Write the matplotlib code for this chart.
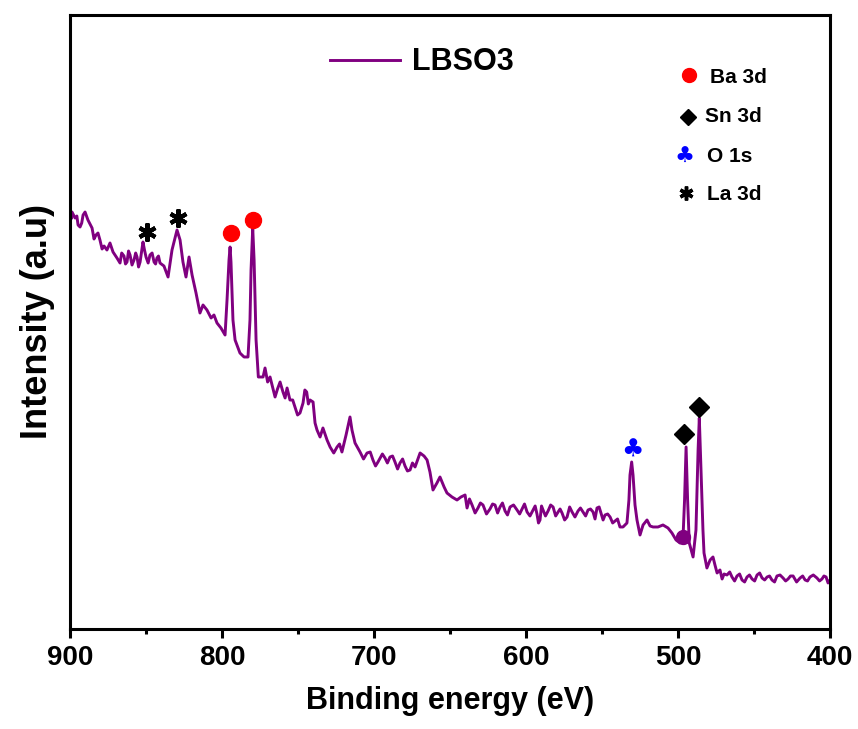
import matplotlib
matplotlib.use('Agg')
import matplotlib.pyplot as plt
import numpy as np
from matplotlib.ticker import MultipleLocator

plt.rcParams['font.family'] = ['Liberation Sans', 'DejaVu Sans']
plt.rcParams['font.weight'] = 'bold'

# XPS survey spectrum of LBSO3 (intensity in a.u.)
energy = [900.0, 898.7, 896.7, 894.7, 893.4, 891.4, 890.1, 888.2, 885.5, 882.9,
          880.3, 877.6, 875.7, 873.7, 871.7, 869.1, 867.1, 864.5, 862.5, 860.5,
          857.9, 855.9, 853.9, 852.0, 850.0, 847.4, 844.7, 842.8, 840.8, 838.2,
          835.5, 832.9, 830.9, 829.6, 827.6, 825.7, 823.7, 821.7, 819.7, 817.1,
          814.5, 812.5, 809.9, 807.2, 805.3, 803.3, 800.7, 798.0, 796.7, 795.4,
          794.7, 794.1, 792.8, 791.4, 788.2, 785.5, 782.9, 781.6, 780.9, 779.8,
          778.9, 777.6, 776.1, 773.0, 771.7, 768.4, 765.1, 761.8, 759.9, 757.2,
          755.3, 752.0, 748.7, 746.7, 744.3, 742.1, 740.1, 737.5, 735.5, 733.6,
          730.9, 728.9, 724.3, 721.1, 718.4, 715.8, 714.5, 712.5, 709.2, 704.6,
          700.7, 697.4, 692.8, 689.5, 686.2, 682.9, 679.6, 676.3, 673.0, 669.7,
          667.1, 665.1, 663.2, 661.2, 658.6, 656.6, 653.9, 652.0, 648.7, 645.4,
          642.8, 640.1, 638.8, 635.5, 631.6, 628.3, 623.7, 620.4, 617.1, 613.8,
          610.5, 605.9, 602.6, 599.3, 595.4, 592.8, 590.8, 588.8, 585.5, 582.2,
          578.9, 576.3, 573.0, 569.7, 565.8, 562.5, 559.2, 555.9, 553.3, 550.7,
          548.0, 544.7, 541.4, 538.2, 536.2, 533.6, 532.3, 531.6, 530.5, 529.6,
          528.3, 527.0, 525.0, 523.0, 520.4, 518.4, 516.4, 513.2, 509.9, 506.6,
          504.0, 501.3, 498.7, 496.7, 495.7, 494.7, 493.7, 492.6, 490.1, 488.2,
          486.8, 486.0, 484.9, 483.6, 482.9, 481.0, 478.9, 477.0, 475.7, 474.3,
          472.4, 469.7, 467.8, 464.5, 461.2, 457.9, 454.6, 451.3, 448.0, 444.7,
          441.4, 438.2, 434.9, 430.9, 427.6, 424.3, 419.7, 416.4, 413.2, 408.6,
          405.3, 402.6, 400.0]
intensity = [42.1, 41.7, 41.1, 40.4, 40.2, 41.4, 41.7, 40.9, 40.1, 39.4,
             38.9, 38.3, 37.9, 38.6, 37.7, 37.1, 36.6, 37.3, 36.7, 37.4,
             36.9, 37.2, 36.7, 38.7, 37.2, 37.4, 36.7, 37.1, 36.6, 36.3,
             35.2, 37.9, 39.1, 39.9, 38.9, 36.7, 35.2, 37.2, 35.4, 33.6,
             31.6, 32.4, 31.9, 31.1, 31.4, 30.6, 30.1, 29.4, 32.9, 36.9,
             38.2, 36.7, 30.9, 28.9, 27.6, 27.2, 27.2, 30.9, 35.9, 40.1,
             36.9, 28.9, 25.2, 25.2, 26.1, 25.2, 23.2, 24.7, 23.7, 24.1,
             22.9, 22.2, 21.6, 22.6, 23.7, 22.9, 22.7, 19.9, 19.2, 20.1,
             18.9, 18.2, 18.2, 17.7, 19.4, 21.2, 19.9, 18.6, 17.7, 17.6,
             16.9, 16.7, 17.1, 17.2, 16.7, 16.6, 16.3, 15.9, 16.2, 17.6,
             17.3, 16.9, 15.7, 13.9, 14.6, 15.2, 14.2, 13.6, 13.2, 12.9,
             13.2, 13.4, 12.1, 12.4, 12.1, 12.4, 12.0, 12.4, 12.2, 11.8,
             12.2, 11.9, 12.0, 11.7, 11.9, 11.5, 10.9, 11.9, 11.8, 12.2,
             11.7, 11.6, 11.2, 11.7, 11.8, 11.7, 11.9, 11.7, 12.1, 11.6,
             11.4, 11.2, 10.8, 10.2, 10.2, 10.6, 12.9, 15.4, 16.7, 15.4,
             12.4, 10.9, 9.4, 10.4, 10.9, 10.3, 10.2, 10.2, 10.4, 10.1,
             9.6, 8.9, 8.6, 9.2, 12.9, 18.2, 12.9, 8.6, 7.2, 9.9,
             17.9, 21.1, 15.9, 9.9, 7.6, 6.1, 6.9, 7.2, 6.4, 5.6,
             5.9, 5.5, 5.4, 5.2, 5.3, 4.9, 5.2, 5.0, 5.4, 5.1,
             5.2, 4.9, 5.3, 5.1, 5.0, 5.3, 5.1, 4.9, 5.2, 5.1,
             5.0, 5.2, 4.9]

# extra readings of the small noise wiggles between the points above
noise_energy = [899.3, 895.5, 892.3, 884.2, 881.6, 878.9, 866.0, 863.5, 861.5,
                859.2, 856.8, 854.9, 851.0, 848.6, 846.0, 843.7, 841.8,
                770.0, 763.5, 758.5, 753.5, 750.3, 745.5, 743.2, 738.8, 726.5,
                722.7, 706.9, 702.5, 699.0, 694.5, 691.2, 687.8, 684.5, 681.2,
                678.0, 674.7,
                637.2, 633.5, 630.0, 626.0, 622.0, 618.7, 615.5, 612.2, 608.2,
                604.2, 601.0, 597.4, 594.0, 591.8, 589.8, 587.2, 583.8, 580.5,
                577.6, 574.6, 571.3, 567.8, 564.2, 560.8, 557.6, 554.6, 551.9,
                549.3, 546.3, 543.0, 539.8,
                471.0, 466.0, 462.8, 459.5, 456.2, 453.0, 449.6, 446.3, 443.0,
                439.8, 436.5, 432.9, 429.2, 426.0, 422.0, 418.0, 414.8, 411.0,
                406.9, 404.0, 401.3]
noise_intensity = [41.0, 41.3, 40.6, 39.0, 39.6, 38.0, 37.6, 36.5, 37.8,
                   36.4, 37.6, 36.2, 37.9, 36.6, 37.6, 36.5, 37.3,
                   24.7, 24.0, 23.1, 22.9, 21.4, 23.9, 22.5, 20.6, 17.6,
                   18.5, 17.0, 17.7, 16.3, 17.5, 16.6, 17.3, 16.0, 17.0,
                   15.8, 16.6,
                   13.0, 11.6, 12.6, 11.5, 12.5, 11.6, 12.6, 11.4, 12.4,
                   11.5, 12.5, 11.3, 12.3, 10.6, 12.3, 11.3, 12.4, 11.3,
                   12.0, 10.9, 12.2, 11.2, 12.1, 11.3, 12.0, 11.0, 12.2,
                   10.9, 11.5, 10.6, 11.0,
                   5.0, 5.7, 4.8, 5.5, 4.7, 5.4, 4.8, 5.6, 4.9,
                   5.3, 4.7, 5.4, 4.8, 5.3, 4.7, 5.3, 4.8, 5.4,
                   4.8, 5.3, 4.6]

# peak markers (binding energy, intensity)
la_peaks = ([849.3, 828.9], [39.7, 41.1])
ba_peaks = ([794.1, 779.6], [39.6, 40.9])
sn_peaks = ([496.1, 486.2], [19.5, 22.2])
o_peak = (530.3, 17.9)
stray_dot = (496.7, 9.2)

e_all = np.array(energy + noise_energy)
i_all = np.array(intensity + noise_intensity)
order = np.argsort(-e_all)

fig, ax = plt.subplots(figsize=(8.58, 7.29), dpi=100)
fig.subplots_adjust(left=0.0816, right=0.9674, top=0.9794, bottom=0.1372)

ax.plot(e_all[order], i_all[order], color='#800080', lw=2.1, label='LBSO3')

ax.plot(*la_peaks, ls='none', marker=(6, 2, 0), ms=13, mew=3, color='black')
ax.plot(*ba_peaks, ls='none', marker='o', ms=11.5, color='red')
ax.plot(*sn_peaks, ls='none', marker='D', ms=10, color='black')
ax.plot(*stray_dot, ls='none', marker='o', ms=10, color='#800080')
ax.text(o_peak[0], o_peak[1], '\u2663', color='blue', fontsize=18,
        ha='center', va='center', family='DejaVu Sans')

ax.set_xlim(900, 400)
ax.set_ylim(0, 61.4)
ax.xaxis.set_major_locator(MultipleLocator(100))
ax.xaxis.set_minor_locator(MultipleLocator(50))
ax.tick_params(axis='x', which='major', direction='out', length=6.5, width=2.2,
               labelsize=20, pad=5)
ax.tick_params(axis='x', which='minor', direction='out', length=3.5, width=2.2)
ax.set_yticks([])
for s in ax.spines.values():
    s.set_linewidth(2.2)

ax.set_xlabel('Binding energy (eV)', fontsize=22, fontweight='bold', labelpad=11)
ax.set_ylabel('Intensity (a.u)', fontsize=26, fontweight='bold', labelpad=11)

ax.legend(loc='center', bbox_to_anchor=(0.463, 0.923), frameon=False,
          fontsize=22, handlelength=2.3, handletextpad=0.4)

# right-hand key of peak symbols
ax.plot(0.815, 0.902, 'o', ms=10, color='red', transform=ax.transAxes)
ax.plot(0.813, 0.834, 'D', ms=8, color='black', transform=ax.transAxes)
ax.text(0.809, 0.769, '\u2663', color='blue', fontsize=16, ha='center',
        va='center', family='DejaVu Sans', transform=ax.transAxes)
ax.plot(0.811, 0.710, marker=(6, 2, 0), ms=10, mew=2.5, color='black',
        transform=ax.transAxes)
for lab, xx, yy in [('Ba 3d', 0.842, 0.899), ('Sn 3d', 0.836, 0.834),
                    ('O 1s', 0.838, 0.769), ('La 3d', 0.838, 0.708)]:
    ax.text(xx, yy, lab, fontsize=15, fontweight='bold', ha='left',
            va='center', transform=ax.transAxes)

plt.savefig('out.png', dpi=100)
